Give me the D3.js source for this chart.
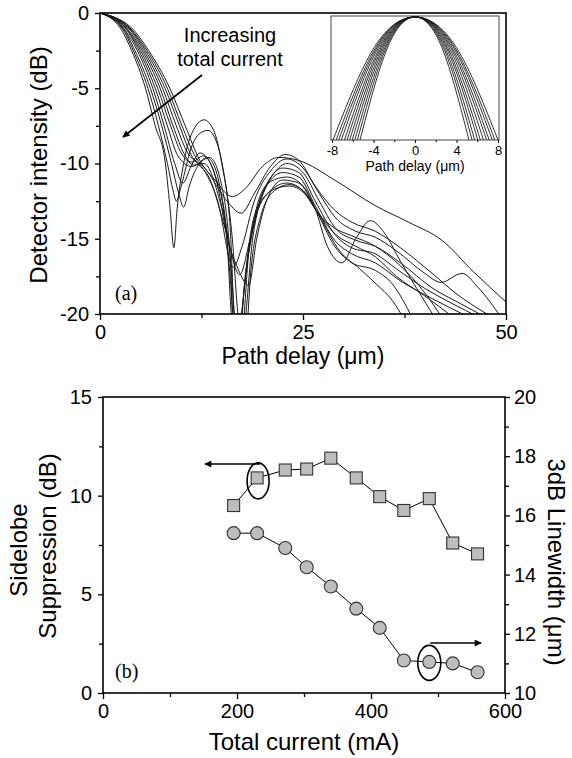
<!DOCTYPE html>
<html>
<head>
<meta charset="utf-8">
<script src="https://cdn.jsdelivr.net/npm/d3@7"></script>
<style>
  html, body { margin: 0; padding: 0; background: #fff; }
  svg { display: block; }
  text { font-family: "Liberation Sans", Arial, sans-serif; fill: #000; }
  .serif { font-family: "Liberation Serif", "Times New Roman", serif; }
</style>
</head>
<body>
<svg id="fig" width="572" height="758"></svg>
<script>
// ---------- Panel (a): detector intensity vs path delay, one trace per drive current ----------
// each trace: [path delay (um), intensity (dB)], lowest current first
const delayCurves = [
  [[0,0],[3.9,-1],[6,-2.5],[8.6,-5],[10.5,-7.5],[12.3,-9.8],[14,-11],[16.3,-12.2],[18,-11.6],[20,-10.2],[22,-9.6],[24.5,-9.8],[28.9,-11.1],[33.9,-12.8],[38,-13.9],[42.1,-15.1],[46,-17.2],[50,-19.2]],
  [[0,0],[3.7,-1],[5.8,-2.5],[8.3,-5],[10.1,-7.5],[11.8,-9.6],[13.2,-10.5],[15.5,-12.4],[17.4,-13.3],[19,-12],[21,-10.2],[22.8,-9.4],[24.5,-9.8],[26.5,-11.5],[28.9,-13.1],[31,-13.9],[33.9,-14.5],[37,-15.6],[40.9,-17.3],[44,-18.7],[48.6,-20.3]],
  [[0,0],[3.6,-1],[5.6,-2.5],[8,-5],[9.8,-7.5],[11.3,-9.5],[12.5,-10.2],[14.5,-12.5],[16.4,-16.9],[17.5,-15.5],[19,-12.5],[21,-10.5],[23,-9.7],[25,-10.3],[27,-12],[29,-13.6],[31.5,-14.5],[33.9,-14.9],[36.5,-15.8],[40,-17.3],[42,-17.9],[44.6,-17.3],[46.5,-18.2],[49.5,-20.3]],
  [[0,0],[3.5,-1],[5.4,-2.5],[7.7,-5],[9.4,-7.5],[10.8,-9.3],[12,-10],[13.5,-11],[15.5,-14.5],[17.2,-17.4],[18.5,-15],[20,-12],[21.5,-10.6],[23,-10],[25,-10.6],[27,-12.5],[29,-14.3],[31.5,-15.1],[33.9,-15.5],[37,-16.6],[41,-18.3],[44,-19.2],[47.8,-20.3]],
  [[0,0],[3.3,-1],[5.2,-2.5],[7.4,-5],[9,-7.5],[10.4,-9.4],[11.5,-10.1],[12.8,-10],[14.5,-12],[16,-16],[16.8,-21],[17.6,-21],[18.8,-15],[20.5,-11.5],[22.5,-10.3],[24.5,-10.6],[26.5,-12.5],[28.9,-14.7],[31,-15.6],[33.9,-16],[36.5,-17],[40,-18.3],[43,-19.2],[47,-20.3]],
  [[0,0],[3.2,-1],[5,-2.5],[7.1,-5],[8.7,-7.5],[10,-9.3],[11.3,-9.9],[12.7,-9.5],[14.2,-10.8],[15.5,-14],[16.4,-21],[17,-21],[18.3,-16],[20,-12],[22.5,-10.6],[24.5,-10.9],[26.5,-12.8],[28.9,-15.1],[31,-16],[33.9,-16.6],[37,-17.8],[41,-19],[45.8,-20.3]],
  [[0,0],[3.1,-1],[4.8,-2.5],[6.8,-5],[8.3,-7.5],[9.6,-9.5],[11.3,-10.2],[13.5,-9.6],[15,-11.5],[16,-16],[16.5,-21],[17.1,-21],[18,-17],[19.5,-12.5],[21,-11.2],[23,-10.9],[25,-11.5],[26.5,-13],[28,-15.5],[29.8,-16.6],[31.5,-15],[33.3,-13.8],[35,-14.6],[37,-16.5],[39,-18.3],[41.3,-20.3]],
  [[0,0],[2.9,-1],[4.6,-2.5],[6.5,-5],[7.9,-7.5],[9.2,-10],[10.2,-11.3],[11.2,-10.2],[12.3,-9.3],[13.3,-9.7],[14.5,-11.5],[15.5,-14.5],[17,-17],[18.3,-18.1],[19.3,-15],[20.5,-12.5],[22.5,-11.1],[24.5,-11.3],[26.5,-13],[28.9,-15.5],[31,-16.6],[33.9,-17.1],[36,-18],[38.5,-20.3]],
  [[0,0],[2.8,-1],[4.3,-2.5],[6.2,-5],[7.6,-7.5],[8.8,-10],[9.7,-12],[10.3,-12.9],[11,-11.5],[12,-10.2],[13.2,-9.6],[14.3,-10.5],[15.3,-13.5],[16.1,-18],[16.5,-21],[17.3,-21],[17.8,-18],[19,-13.5],[21,-11.8],[23,-11.3],[25,-11.8],[27,-13.5],[29.5,-15.8],[32,-17],[34,-18],[36,-19.1],[37.4,-20.3]],
  [[0,0],[2.7,-1],[4.1,-2.5],[5.9,-5],[7.2,-7.5],[8.3,-10],[9,-11.8],[9.4,-12.5],[10,-11.5],[11.2,-9],[12.3,-8],[13.3,-7.8],[14.5,-8.8],[15.5,-11.5],[16.3,-15],[17,-20],[17.4,-21],[18,-21],[18.6,-17],[19.8,-13.5],[21.5,-11.8],[23.3,-11.4],[25,-11.8],[27,-13.4],[29,-14.7],[31.5,-15.5],[33.9,-16.2],[36.5,-17.5],[40,-18.8],[43.7,-20.3]],
  [[0,0],[2.5,-1],[3.9,-2.5],[5.6,-5],[6.8,-7.5],[8,-9.8],[8.6,-12.8],[9.1,-15.6],[9.5,-13],[10.3,-10],[11.3,-8],[12.8,-7.1],[14,-7.8],[15,-10],[16,-14],[16.7,-21],[17.5,-21],[18.3,-16],[19.5,-13],[21.5,-11.7],[23.3,-11.5],[25,-11.9],[27,-13.4],[28.9,-14.3],[31,-14.8],[33.9,-15.5],[37,-16.8],[40,-18.6],[42.2,-20.3]]
];
const delayTicks = [0, 25, 50];
const delayMinorTicks = [12.5, 37.5];
const intensityTicks = [0, -5, -10, -15, -20];
const intensityMinorTicks = [-2.5, -7.5, -12.5, -17.5];

// inset: central lobe of each trace, [path delay (um), intensity (dB)]
const insetCurves = [
  [[-7.9,-3],[-3.95,-0.75],[0,0],[4.0,-0.75],[8.0,-3]],
  [[-7.6,-3],[-3.8,-0.75],[0,0],[3.85,-0.75],[7.7,-3]],
  [[-7.35,-3],[-3.68,-0.75],[0,0],[3.73,-0.75],[7.45,-3]],
  [[-7.1,-3],[-3.55,-0.75],[0,0],[3.58,-0.75],[7.15,-3]],
  [[-6.8,-3],[-3.4,-0.75],[0,0],[3.45,-0.75],[6.9,-3]],
  [[-6.55,-3],[-3.28,-0.75],[0,0],[3.3,-0.75],[6.6,-3]],
  [[-6.3,-3],[-3.15,-0.75],[0,0],[3.15,-0.75],[6.3,-3]],
  [[-6.05,-3],[-3.03,-0.75],[0,0],[3.03,-0.75],[6.05,-3]],
  [[-5.8,-3],[-2.9,-0.75],[0,0],[2.88,-0.75],[5.75,-3]],
  [[-5.55,-3],[-2.78,-0.75],[0,0],[2.75,-0.75],[5.5,-3]],
  [[-5.3,-3],[-2.65,-0.75],[0,0],[2.6,-0.75],[5.2,-3]]
];
const insetTicks = [-8, -4, 0, 4, 8];
const insetMinorTicks = [-6, -2, 2, 6];

// ---------- Panel (b): sidelobe suppression and 3 dB linewidth vs total current ----------
const totalCurrent = [195, 230, 272, 304, 340, 378, 413, 449, 487, 522, 559];
const sidelobeSuppression = [9.5, 10.9, 11.3, 11.35, 11.9, 10.9, 9.95, 9.25, 9.85, 7.6, 7.05];
const linewidth3dB = [15.4, 15.4, 14.9, 14.25, 13.6, 12.85, 12.2, 11.1, 11.05, 11.0, 10.7];
const currentTicks = [0, 200, 400, 600];
const currentMinorTicks = [100, 300, 500];
const suppressionTicks = [0, 5, 10, 15];
const suppressionMinorTicks = [2.5, 7.5, 12.5];
const linewidthTicks = [10, 12, 14, 16, 18, 20];
const linewidthMinorTicks = [11, 13, 15, 17, 19];

// plain hyphen-minus labels
const plain = d => String(d);

const svg = d3.select("#fig");

// arrowhead
const defs = svg.append("defs");
defs.append("marker")
  .attr("id", "head").attr("viewBox", "0 0 10 10")
  .attr("refX", 9).attr("refY", 5)
  .attr("markerWidth", 9).attr("markerHeight", 7)
  .attr("markerUnits", "userSpaceOnUse")
  .attr("orient", "auto")
  .append("path").attr("d", "M0,0 L10,5 L0,10 z").attr("fill", "#000");

function styleAxis(g, fontSize) {
  g.selectAll(".domain").remove();
  g.selectAll("line").attr("stroke", "#000").attr("stroke-width", 1.3);
  g.selectAll("text").attr("font-size", fontSize).attr("font-family", "Liberation Sans, Arial, sans-serif").attr("fill", "#000");
}

// ===== Panel (a) =====
const xA = d3.scaleLinear().domain([0, 50]).range([100, 506]);
const yA = d3.scaleLinear().domain([-20, 0]).range([314, 13]);

defs.append("clipPath").attr("id", "clipA")
  .append("rect").attr("x", 100).attr("y", 13).attr("width", 406).attr("height", 301);

const lineA = d3.line().x(d => xA(d[0])).y(d => yA(d[1])).curve(d3.curveMonotoneX);
svg.append("g").attr("clip-path", "url(#clipA)")
  .selectAll("path").data(delayCurves).join("path")
  .attr("d", lineA).attr("fill", "none").attr("stroke", "#1a1a1a").attr("stroke-width", 1);

svg.append("g").attr("transform", "translate(0,314)")
  .call(d3.axisBottom(xA).tickValues(delayTicks).tickSize(6).tickPadding(5).tickFormat(plain))
  .call(g => styleAxis(g, 20));
svg.append("g").attr("transform", "translate(0,314)")
  .call(d3.axisBottom(xA).tickValues(delayMinorTicks).tickSize(4).tickFormat(""))
  .call(g => styleAxis(g, 20));
svg.append("g").attr("transform", "translate(100,0)")
  .call(d3.axisLeft(yA).tickValues(intensityTicks).tickSize(5).tickPadding(6).tickFormat(plain))
  .call(g => styleAxis(g, 20));
svg.append("g").attr("transform", "translate(100,0)")
  .call(d3.axisLeft(yA).tickValues(intensityMinorTicks).tickSize(4).tickFormat(""))
  .call(g => styleAxis(g, 20));

svg.append("rect").attr("x", 100).attr("y", 13).attr("width", 406).attr("height", 301)
  .attr("fill", "none").attr("stroke", "#000").attr("stroke-width", 1.6);

svg.append("text").attr("transform", "translate(47,165) rotate(-90)")
  .attr("text-anchor", "middle").attr("font-size", 24).text("Detector intensity (dB)");
svg.append("text").attr("x", 303).attr("y", 364)
  .attr("text-anchor", "middle").attr("font-size", 23).text("Path delay (\u03bcm)");

svg.append("text").attr("x", 230).attr("y", 42).attr("text-anchor", "middle")
  .attr("font-size", 20).text("Increasing");
svg.append("text").attr("x", 230).attr("y", 66).attr("text-anchor", "middle")
  .attr("font-size", 20).text("total current");
svg.append("line").attr("x1", 202).attr("y1", 75).attr("x2", 123).attr("y2", 137)
  .attr("stroke", "#000").attr("stroke-width", 1.6).attr("marker-end", "url(#head)");
svg.append("text").attr("class", "serif").attr("x", 115).attr("y", 300)
  .attr("font-size", 20).text("(a)");

// inset
const xI = d3.scaleLinear().domain([-8, 8]).range([332, 498]);
const yI = d3.scaleLinear().domain([-3, 0]).range([140, 17]);
svg.append("rect").attr("x", 331).attr("y", 16).attr("width", 168).attr("height", 124)
  .attr("fill", "#fff").attr("stroke", "#444").attr("stroke-width", 1);
const lineI = d3.line().x(d => xI(d[0])).y(d => yI(d[1])).curve(d3.curveNatural);
svg.append("g").selectAll("path").data(insetCurves).join("path")
  .attr("d", lineI).attr("fill", "none").attr("stroke", "#1a1a1a").attr("stroke-width", 0.9);
svg.append("g").attr("transform", "translate(0,140)")
  .call(d3.axisBottom(xI).tickValues(insetTicks).tickSize(3).tickPadding(3).tickFormat(plain))
  .call(g => styleAxis(g, 13))
  .call(g => g.selectAll("line").attr("stroke-width", 1));
svg.append("g").attr("transform", "translate(0,140)")
  .call(d3.axisBottom(xI).tickValues(insetMinorTicks).tickSize(2).tickFormat(""))
  .call(g => styleAxis(g, 13))
  .call(g => g.selectAll("line").attr("stroke-width", 1));
svg.append("text").attr("x", 415).attr("y", 171).attr("text-anchor", "middle")
  .attr("font-size", 14).text("Path delay (\u03bcm)");

// ===== Panel (b) =====
const xB = d3.scaleLinear().domain([0, 600]).range([103, 505]);
const yBL = d3.scaleLinear().domain([0, 15]).range([693, 397]);
const yBR = d3.scaleLinear().domain([10, 20]).range([693, 397]);

svg.append("g").attr("transform", "translate(0,693)")
  .call(d3.axisBottom(xB).tickValues(currentTicks).tickSize(6).tickPadding(5).tickFormat(plain))
  .call(g => styleAxis(g, 20));
svg.append("g").attr("transform", "translate(0,693)")
  .call(d3.axisBottom(xB).tickValues(currentMinorTicks).tickSize(4).tickFormat(""))
  .call(g => styleAxis(g, 20));
svg.append("g").attr("transform", "translate(103,0)")
  .call(d3.axisLeft(yBL).tickValues(suppressionTicks).tickSize(5).tickPadding(6).tickFormat(plain))
  .call(g => styleAxis(g, 20));
svg.append("g").attr("transform", "translate(103,0)")
  .call(d3.axisLeft(yBL).tickValues(suppressionMinorTicks).tickSize(4).tickFormat(""))
  .call(g => styleAxis(g, 20));
svg.append("g").attr("transform", "translate(505,0)")
  .call(d3.axisRight(yBR).tickValues(linewidthTicks).tickSize(5).tickPadding(4).tickFormat(plain))
  .call(g => styleAxis(g, 20));
svg.append("g").attr("transform", "translate(505,0)")
  .call(d3.axisRight(yBR).tickValues(linewidthMinorTicks).tickSize(4).tickFormat(""))
  .call(g => styleAxis(g, 20));

svg.append("rect").attr("x", 103).attr("y", 397).attr("width", 402).attr("height", 296)
  .attr("fill", "none").attr("stroke", "#000").attr("stroke-width", 1.6);

const supp = totalCurrent.map((c, i) => [c, sidelobeSuppression[i]]);
const lw = totalCurrent.map((c, i) => [c, linewidth3dB[i]]);

svg.append("path").datum(supp)
  .attr("d", d3.line().x(d => xB(d[0])).y(d => yBL(d[1])))
  .attr("fill", "none").attr("stroke", "#000").attr("stroke-width", 1);
svg.append("path").datum(lw)
  .attr("d", d3.line().x(d => xB(d[0])).y(d => yBR(d[1])))
  .attr("fill", "none").attr("stroke", "#000").attr("stroke-width", 1);

svg.append("g").selectAll("rect").data(supp).join("rect")
  .attr("x", d => xB(d[0]) - 6).attr("y", d => yBL(d[1]) - 6)
  .attr("width", 12).attr("height", 12)
  .attr("fill", "#bdbdbd").attr("stroke", "#333").attr("stroke-width", 1.1);
svg.append("g").selectAll("circle").data(lw).join("circle")
  .attr("cx", d => xB(d[0])).attr("cy", d => yBR(d[1])).attr("r", 6.5)
  .attr("fill", "#bdbdbd").attr("stroke", "#333").attr("stroke-width", 1.1);

// callouts tying each series to its axis
const pS = supp[1], pL = lw[8];
svg.append("ellipse").attr("cx", xB(pS[0]) + 1).attr("cy", yBL(pS[1]) + 3)
  .attr("rx", 11).attr("ry", 18).attr("fill", "none").attr("stroke", "#000").attr("stroke-width", 1.6);
svg.append("line").attr("x1", xB(pS[0]) + 3).attr("y1", 464).attr("x2", 205).attr("y2", 464)
  .attr("stroke", "#000").attr("stroke-width", 1.4).attr("marker-end", "url(#head)");
svg.append("ellipse").attr("cx", xB(pL[0])).attr("cy", yBR(pL[1]) + 1)
  .attr("rx", 11.5).attr("ry", 17.5).attr("fill", "none").attr("stroke", "#000").attr("stroke-width", 1.6);
svg.append("line").attr("x1", xB(pL[0]) + 1).attr("y1", 643).attr("x2", 481).attr("y2", 643)
  .attr("stroke", "#000").attr("stroke-width", 1.4).attr("marker-end", "url(#head)");

svg.append("text").attr("transform", "translate(27,550) rotate(-90)")
  .attr("text-anchor", "middle").attr("font-size", 24).text("Sidelobe");
svg.append("text").attr("transform", "translate(56,546) rotate(-90)")
  .attr("text-anchor", "middle").attr("font-size", 24).text("Suppression (dB)");
svg.append("text").attr("transform", "translate(548,562) rotate(90)")
  .attr("text-anchor", "middle").attr("font-size", 24).text("3dB Linewidth (\u03bcm)");
svg.append("text").attr("x", 304).attr("y", 750)
  .attr("text-anchor", "middle").attr("font-size", 24).text("Total current (mA)");
svg.append("text").attr("class", "serif").attr("x", 115).attr("y", 678)
  .attr("font-size", 20).text("(b)");
</script>
</body>
</html>
